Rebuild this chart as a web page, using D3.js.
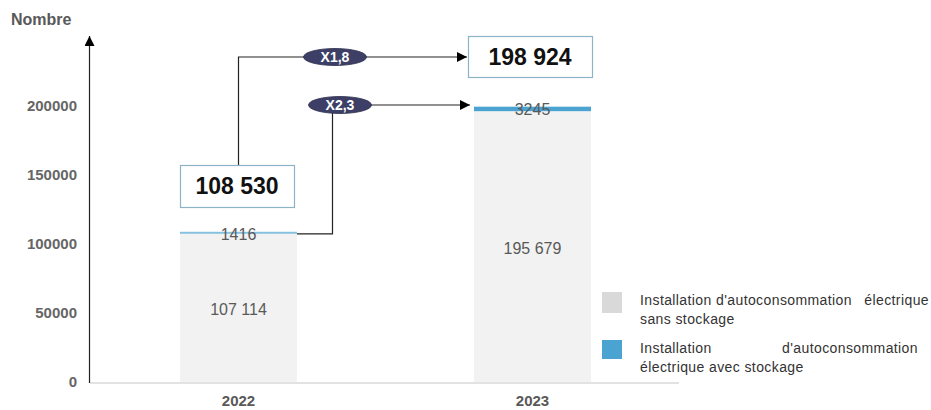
<!DOCTYPE html>
<html>
<head>
<meta charset="utf-8">
<script src="https://cdn.jsdelivr.net/npm/d3@7"></script>
<style>
  body { margin: 0; background: #fff; }
  svg { font-family: "Liberation Sans", Arial, sans-serif; }
</style>
</head>
<body>
<svg width="931" height="410"></svg>
<script>
const years = ["2022", "2023"];
const sansStockage = [107114, 195679];
const avecStockage = [1416, 3245];
const totals = [108530, 198924];
const totalLabels = ["108 530", "198 924"];
const sansLabels = ["107 114", "195 679"];
const avecLabels = ["1416", "3245"];
const ratios = ["X1,8", "X2,3"];
const yTicks = [0, 50000, 100000, 150000, 200000];

const svg = d3.select("svg");

const x = d3.scaleBand().domain(years).range([180, 591]).paddingInner(0.602).paddingOuter(0);
const y = d3.scaleLinear().domain([0, 200000]).range([382, 105.2]);

const defs = svg.append("defs");
defs.append("marker").attr("id", "arr").attr("viewBox", "0 0 10 10")
  .attr("refX", 10).attr("refY", 5).attr("markerWidth", 10).attr("markerHeight", 10)
  .attr("markerUnits", "userSpaceOnUse").attr("orient", "auto")
  .append("path").attr("d", "M0,0L10,5L0,10Z").attr("fill", "#000");

// title
svg.append("text").attr("x", 11).attr("y", 25).attr("font-size", 16).attr("font-weight", "bold")
  .attr("fill", "#595959").text("Nombre");

// y axis labels
const yAxis = d3.axisLeft(y).tickValues(yTicks).tickSize(0).tickPadding(0).tickFormat(d3.format("d"));
const yg = svg.append("g").attr("transform", "translate(77,0)").call(yAxis);
yg.select(".domain").remove();
yg.selectAll("text").attr("font-size", 15).attr("font-weight", "bold").attr("fill", "#666")
  .attr("font-family", "Liberation Sans, Arial, sans-serif");

// baseline
svg.append("line").attr("x1", 90).attr("x2", 679).attr("y1", y(0) + 1).attr("y2", y(0) + 1)
  .attr("stroke", "#d9d9d9").attr("stroke-width", 1.5);

// bars
const bars = svg.append("g");
bars.selectAll(".sans").data(years).join("rect").attr("class", "sans")
  .attr("x", d => x(d)).attr("width", x.bandwidth())
  .attr("y", (d, i) => y(sansStockage[i])).attr("height", (d, i) => y(0) - y(sansStockage[i]))
  .attr("fill", "#f2f2f2");
bars.selectAll(".avec").data(years).join("rect").attr("class", "avec")
  .attr("x", d => x(d)).attr("width", x.bandwidth())
  .attr("y", (d, i) => y(sansStockage[i] + avecStockage[i]))
  .attr("height", (d, i) => Math.max(2, y(sansStockage[i]) - y(sansStockage[i] + avecStockage[i])))
  .attr("fill", (d, i) => i === 0 ? "#86c1df" : "#4ba3d1");

// y axis line with arrow
svg.append("line").attr("x1", 89.5).attr("x2", 89.5).attr("y1", y(0) + 1).attr("y2", 36)
  .attr("stroke", "#222").attr("stroke-width", 1.2).attr("marker-end", "url(#arr)");

// value labels
bars.selectAll(".sl").data(years).join("text").attr("class", "sl")
  .attr("x", d => x(d) + x.bandwidth() / 2).attr("y", (d, i) => y(sansStockage[i] / 2) + 7)
  .attr("text-anchor", "middle").attr("font-size", 16).attr("fill", "#595959")
  .text((d, i) => sansLabels[i]);
bars.selectAll(".al").data(years).join("text").attr("class", "al")
  .attr("x", d => x(d) + x.bandwidth() / 2).attr("y", (d, i) => y(totals[i]) + 8)
  .attr("text-anchor", "middle").attr("font-size", 16).attr("fill", "#595959")
  .text((d, i) => avecLabels[i]);

// x labels
svg.selectAll(".xl").data(years).join("text").attr("class", "xl")
  .attr("x", d => x(d) + x.bandwidth() / 2).attr("y", 406)
  .attr("text-anchor", "middle").attr("font-size", 15).attr("font-weight", "bold").attr("fill", "#595959")
  .text(d => d);

// connectors
const c = x.bandwidth() / 2;
const box1 = { x: 180, y: 165, w: 114, h: 42 };
const box2 = { x: 468, y: 36, w: 124, h: 41 };
const midY1 = 57;
svg.append("path")
  .attr("d", `M${x(years[0]) + c},${box1.y}V${midY1}H${box2.x - 1}`)
  .attr("fill", "none").attr("stroke", "#222").attr("stroke-width", 1.2).attr("marker-end", "url(#arr)");
const line2Y = 105;
svg.append("path")
  .attr("d", `M${x(years[0]) + x.bandwidth()},${y(totals[0]) + 2}H332.5V${line2Y}H${x(years[1]) - 4}`)
  .attr("fill", "none").attr("stroke", "#222").attr("stroke-width", 1.2).attr("marker-end", "url(#arr)");

// total boxes
[box1, box2].forEach((b, i) => {
  svg.append("rect").attr("x", b.x + 0.5).attr("y", b.y + 0.5).attr("width", b.w).attr("height", b.h)
    .attr("fill", "#fff").attr("stroke", "#8db4c6").attr("stroke-width", 1.2);
  svg.append("text").attr("x", b.x + b.w / 2).attr("y", b.y + b.h / 2 + 8)
    .attr("text-anchor", "middle").attr("font-size", 23).attr("font-weight", "bold").attr("fill", "#111")
    .text(totalLabels[i]);
});

// ratio ellipses
const ell = [{ cx: 335, cy: midY1 }, { cx: 340, cy: line2Y }];
ell.forEach((e, i) => {
  svg.append("ellipse").attr("cx", e.cx).attr("cy", e.cy).attr("rx", 31.5).attr("ry", 8.5)
    .attr("fill", "#3d3f66").attr("stroke", "#2a2c4a").attr("stroke-width", 0.8);
  svg.append("text").attr("x", e.cx).attr("y", e.cy + 5).attr("text-anchor", "middle")
    .attr("font-size", 14).attr("font-weight", "bold").attr("fill", "#fff").text(ratios[i]);
});

// legend
const lg = svg.append("g").attr("font-size", 14).attr("letter-spacing", 0.4).attr("fill", "#333");
lg.append("rect").attr("x", 602).attr("y", 292).attr("width", 20).attr("height", 21).attr("fill", "#d9d9d9");
lg.append("text").attr("x", 640).attr("y", 305).text("Installation");
lg.append("text").attr("x", 716).attr("y", 305).text("d'autoconsommation");
lg.append("text").attr("x", 929).attr("y", 305).attr("text-anchor", "end").text("électrique");
lg.append("text").attr("x", 640).attr("y", 324).text("sans stockage");
lg.append("rect").attr("x", 602).attr("y", 340).attr("width", 20).attr("height", 19).attr("fill", "#4ba3d1");
lg.append("text").attr("x", 640).attr("y", 353).text("Installation");
lg.append("text").attr("x", 918).attr("y", 353).attr("text-anchor", "end").text("d'autoconsommation");
lg.append("text").attr("x", 640).attr("y", 372).text("électrique avec stockage");
</script>
</body>
</html>
